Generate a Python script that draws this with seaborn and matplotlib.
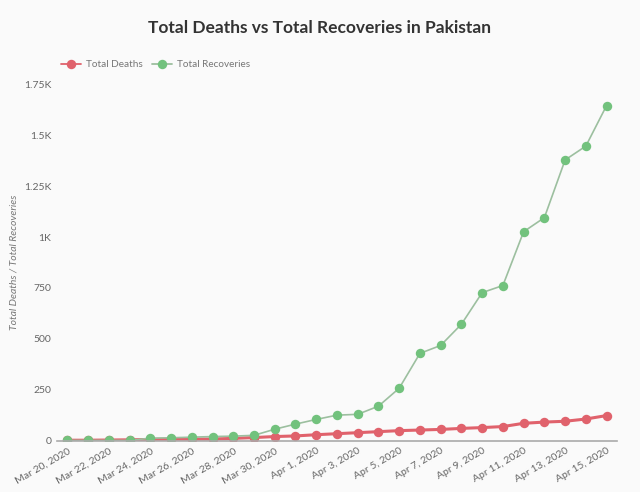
import numpy as np
import pandas as pd
import matplotlib.pyplot as plt
import matplotlib.dates as mdates
from matplotlib.ticker import FuncFormatter
import seaborn as sns

fechas = pd.date_range("2020-03-20", "2020-04-15", freq="D")
muertes = [3, 3, 4, 5, 7, 8, 8, 9, 12, 16, 21, 24, 30, 35, 40, 45, 50, 53, 56, 61, 65, 70, 86, 92, 96, 107, 124]
recuperados = [2, 2, 2, 2, 13, 15, 18, 21, 23, 27, 57, 82, 105, 126, 130, 170, 258, 429, 468, 572, 727, 762, 1026, 1095, 1378, 1446, 1645]

df = pd.DataFrame({"Fecha": fechas, "Total Deaths": muertes, "Total Recoveries": recuperados})
df_largo = df.melt(id_vars="Fecha", var_name="Serie", value_name="Valor")

sns.set_theme(style="white")
plt.rcParams["font.family"] = ["Lato", "DejaVu Sans"]

fig = plt.figure(figsize=(6.4, 4.92), dpi=100, facecolor="#fafafa")
ax = fig.add_axes([0.089, 0.104, 0.875, 0.725], facecolor="#fafafa")

colores = {"Total Deaths": "#e0626c", "Total Recoveries": "#72c27d"}
sns.lineplot(data=df_largo, x="Fecha", y="Valor", hue="Serie", palette=colores,
             marker="o", markersize=6.8, markeredgewidth=0, linewidth=1.3, ax=ax)

# la linea verde se ve mas grisacea y fina
ax.lines[1].set_color("#9cbf9f")
ax.lines[1].set_markerfacecolor("#72c27d")
ax.lines[1].set_linewidth(1.2)
ax.lines[0].set_linewidth(2.2)

ax.set_ylim(0, 1750)
ax.set_xlim(fechas[0] - pd.Timedelta(hours=12), fechas[-1] + pd.Timedelta(hours=12))
ax.set_yticks(np.arange(0, 1751, 250))

def fmt_k(v, pos):
    if v >= 1000:
        s = f"{v/1000:.2f}".rstrip("0").rstrip(".")
        return s + "K"
    return f"{int(v)}"

ax.yaxis.set_major_formatter(FuncFormatter(fmt_k))
ax.set_xticks(fechas[::2])
ax.xaxis.set_major_formatter(FuncFormatter(lambda v, p: mdates.num2date(v).strftime("%b %-d, %Y")))
plt.setp(ax.get_xticklabels(), rotation=30, ha="right", rotation_mode="anchor")
ax.tick_params(axis="both", labelsize=7.5, colors="#666666", length=0, pad=4)

for s in ["top", "right", "left"]:
    ax.spines[s].set_visible(False)
ax.spines["bottom"].set_color("#aaaaaa")
ax.spines["bottom"].set_linewidth(1.2)

ax.set_xlabel("")
ax.set_ylabel("Total Deaths / Total Recoveries", fontsize=7.5, style="italic", color="#777777")

leg = ax.legend(loc="lower left", bbox_to_anchor=(0.0, 1.03), ncol=2, frameon=False,
                fontsize=7.2, handlelength=2.0, handletextpad=0.5, columnspacing=0.9, borderaxespad=0)
for t in leg.get_texts():
    t.set_color("#777777")
leg.legend_handles[1].set_color("#9cbf9f")
leg.legend_handles[1].set_markerfacecolor("#72c27d")

fig.text(0.5, 0.943, "Total Deaths vs Total Recoveries in Pakistan", ha="center", va="center",
         fontsize=12.5, fontweight="bold", color="#333333")

fig.savefig("out.png", dpi=100, facecolor=fig.get_facecolor())
